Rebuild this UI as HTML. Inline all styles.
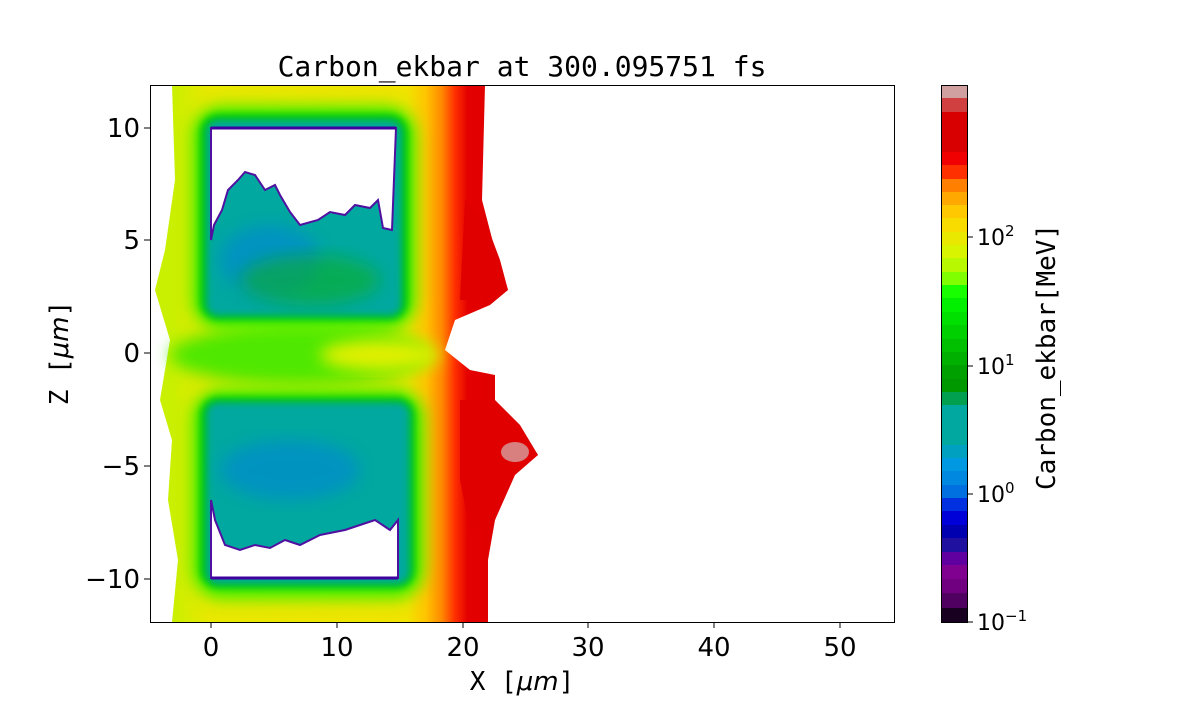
<!DOCTYPE html>
<html><head><style>
body{margin:0;background:#fff;}
</style></head><body>
<svg width="1200" height="700" viewBox="0 0 1200 700" xmlns="http://www.w3.org/2000/svg" style="font-family:'DejaVu Sans','Liberation Sans',sans-serif">
<defs>
<linearGradient id="bg" x1="170" x2="490" y1="0" y2="0" gradientUnits="userSpaceOnUse">
<stop offset="0" stop-color="#c8f000"/>
<stop offset="0.12" stop-color="#e8e800"/>
<stop offset="0.74" stop-color="#f0e400"/>
<stop offset="0.80" stop-color="#ffc400"/>
<stop offset="0.85" stop-color="#ff8800"/>
<stop offset="0.89" stop-color="#ff3000"/>
<stop offset="0.93" stop-color="#e40000"/>
<stop offset="1" stop-color="#e00000"/>
</linearGradient>
<filter id="b8" x="-20%" y="-20%" width="140%" height="140%"><feGaussianBlur stdDeviation="8"/></filter>
<filter id="b4" x="-20%" y="-20%" width="140%" height="140%"><feGaussianBlur stdDeviation="4"/></filter>
<clipPath id="ax"><rect x="150" y="85" width="744" height="537"/></clipPath>
</defs>
<text x="522" y="76" font-size="28" text-anchor="middle" style="font-family:'DejaVu Sans Mono','Liberation Mono',monospace">Carbon_ekbar at 300.095751 fs</text>
<g clip-path="url(#ax)">
<path d="M172 85 L485 85 L482 200 L495 250 L508 290 L490 305 L455 320 L445 350 L470 370 L495 375 L495 410 L520 430 L538 455 L510 475 L495 520 L488 560 L488 622 L172 622 L178 560 L168 500 L172 440 L160 400 L170 340 L155 290 L165 250 L175 180 Z" fill="url(#bg)"/>
<path d="M465 200 L485 220 L500 260 L508 290 L480 300 L460 300 Z" fill="#e00000"/>
<path d="M460 400 L495 400 L520 425 L538 455 L515 475 L495 520 L470 530 L460 480 Z" fill="#e00000"/>
<ellipse cx="515" cy="452" rx="14" ry="10" fill="#d88080"/>
<ellipse cx="300" cy="355" rx="130" ry="30" fill="#50e800" filter="url(#b8)"/>
<ellipse cx="380" cy="355" rx="60" ry="16" fill="#e0f000" filter="url(#b8)"/>
<rect x="192" y="106" width="224" height="224" rx="30" fill="#40f000" filter="url(#b8)"/>
<rect x="200" y="114" width="208" height="206" rx="18" fill="#00c800" filter="url(#b4)"/>
<rect x="206" y="120" width="196" height="196" rx="12" fill="#00a8a0" filter="url(#b4)"/>
<rect x="192" y="389" width="232" height="210" rx="30" fill="#40f000" filter="url(#b8)"/>
<rect x="200" y="397" width="215" height="191" rx="18" fill="#00c800" filter="url(#b4)"/>
<rect x="206" y="402" width="204" height="182" rx="12" fill="#00a8a0" filter="url(#b4)"/>
<ellipse cx="270" cy="260" rx="50" ry="35" fill="#0080e0" opacity="0.5" filter="url(#b8)"/>
<ellipse cx="290" cy="470" rx="70" ry="30" fill="#0080e0" opacity="0.5" filter="url(#b8)"/>
<ellipse cx="310" cy="280" rx="70" ry="25" fill="#10b010" opacity="0.5" filter="url(#b8)"/>
<path d="M211 128 L396 128 L392 230 L383 228 L378 200 L370 208 L355 205 L345 215 L330 212 L318 220 L300 225 L290 212 L280 195 L275 185 L265 190 L255 175 L245 172 L238 180 L228 190 L222 210 L214 225 L211 240 Z" fill="#fff" stroke="#5010a0" stroke-width="2"/>
<path d="M211 578 L398 578 L398 520 L390 530 L375 520 L360 525 L345 530 L320 535 L300 545 L285 540 L270 548 L255 545 L240 550 L225 545 L215 520 L211 500 Z" fill="#fff" stroke="#5010a0" stroke-width="2"/>
<path d="M211 128 L396 128 M211 578 L398 578" stroke="#4000a0" stroke-width="3"/>
</g>
<rect x="150.5" y="85.5" width="744" height="537" fill="none" stroke="#000" stroke-width="1"/>
<g font-size="26" fill="#000">
<g stroke="#000" stroke-width="1">
<line x1="211" y1="622" x2="211" y2="628"/><line x1="337" y1="622" x2="337" y2="628"/><line x1="463" y1="622" x2="463" y2="628"/><line x1="588" y1="622" x2="588" y2="628"/><line x1="714" y1="622" x2="714" y2="628"/><line x1="840" y1="622" x2="840" y2="628"/>
<line x1="144" y1="128" x2="150" y2="128"/><line x1="144" y1="240" x2="150" y2="240"/><line x1="144" y1="353" x2="150" y2="353"/><line x1="144" y1="466" x2="150" y2="466"/><line x1="144" y1="579" x2="150" y2="579"/>
</g>
<g text-anchor="middle">
<text x="211" y="656">0</text><text x="337" y="656">10</text><text x="463" y="656">20</text><text x="588" y="656">30</text><text x="714" y="656">40</text><text x="840" y="656">50</text>
</g>
<g text-anchor="end">
<text x="140" y="137">10</text><text x="140" y="249">5</text><text x="140" y="362">0</text><text x="140" y="475">−5</text><text x="140" y="588">−10</text>
</g>
<text x="522" y="690" text-anchor="middle" style="font-family:'DejaVu Sans Mono','Liberation Mono',monospace">X [<tspan font-style="italic" style="font-family:'DejaVu Sans',sans-serif">μm</tspan>]</text>
<text transform="translate(68,353) rotate(-90)" text-anchor="middle" style="font-family:'DejaVu Sans Mono','Liberation Mono',monospace">Z [<tspan font-style="italic" style="font-family:'DejaVu Sans',sans-serif">μm</tspan>]</text>
</g>
<g>
<rect x="941" y="85" width="26" height="13" fill="#d0a0a0"/>
<rect x="941" y="98" width="26" height="14" fill="#d04040"/>
<rect x="941" y="112" width="26" height="40" fill="#d80000"/>
<rect x="941" y="152" width="26" height="13" fill="#f00000"/>
<rect x="941" y="165" width="26" height="14" fill="#ff3000"/>
<rect x="941" y="179" width="26" height="13" fill="#ff8000"/>
<rect x="941" y="192" width="26" height="13" fill="#ffa800"/>
<rect x="941" y="205" width="26" height="13" fill="#ffc800"/>
<rect x="941" y="218" width="26" height="14" fill="#f8dc00"/>
<rect x="941" y="232" width="26" height="13" fill="#e8e800"/>
<rect x="941" y="245" width="26" height="13" fill="#d8f400"/>
<rect x="941" y="258" width="26" height="14" fill="#b8f800"/>
<rect x="941" y="272" width="26" height="13" fill="#80ff00"/>
<rect x="941" y="285" width="26" height="13" fill="#18ff00"/>
<rect x="941" y="298" width="26" height="14" fill="#00f000"/>
<rect x="941" y="312" width="26" height="13" fill="#00e000"/>
<rect x="941" y="325" width="26" height="14" fill="#00d000"/>
<rect x="941" y="339" width="26" height="13" fill="#00c000"/>
<rect x="941" y="352" width="26" height="13" fill="#00b000"/>
<rect x="941" y="365" width="26" height="14" fill="#00a000"/>
<rect x="941" y="379" width="26" height="13" fill="#009800"/>
<rect x="941" y="392" width="26" height="13" fill="#00a050"/>
<rect x="941" y="405" width="26" height="40" fill="#00a8a0"/>
<rect x="941" y="445" width="26" height="13" fill="#00a0c0"/>
<rect x="941" y="458" width="26" height="13" fill="#0098e0"/>
<rect x="941" y="471" width="26" height="14" fill="#0088e0"/>
<rect x="941" y="485" width="26" height="13" fill="#0070e0"/>
<rect x="941" y="498" width="26" height="13" fill="#0030e0"/>
<rect x="941" y="511" width="26" height="14" fill="#0000d8"/>
<rect x="941" y="525" width="26" height="13" fill="#0000b0"/>
<rect x="941" y="538" width="26" height="14" fill="#2010a0"/>
<rect x="941" y="552" width="26" height="13" fill="#6000a0"/>
<rect x="941" y="565" width="26" height="14" fill="#800090"/>
<rect x="941" y="579" width="26" height="14" fill="#700080"/>
<rect x="941" y="593" width="26" height="15" fill="#500060"/>
<rect x="941" y="608" width="26" height="14" fill="#180020"/>
<rect x="941.5" y="85.5" width="26" height="537" fill="none" stroke="#000" stroke-width="1"/>
<g stroke="#000"><line x1="967" y1="237" x2="973" y2="237"/><line x1="967" y1="366" x2="973" y2="366"/><line x1="967" y1="494" x2="973" y2="494"/><line x1="967" y1="622" x2="973" y2="622"/></g>
<g font-size="22">
<text x="977" y="245">10<tspan font-size="15" dy="-9">2</tspan></text>
<text x="977" y="374">10<tspan font-size="15" dy="-9">1</tspan></text>
<text x="977" y="502">10<tspan font-size="15" dy="-9">0</tspan></text>
<text x="977" y="630">10<tspan font-size="15" dy="-9">−1</tspan></text>
</g>
<text transform="translate(1055,357) rotate(-90)" text-anchor="middle" font-size="26" style="font-family:'DejaVu Sans Mono','Liberation Mono',monospace">Carbon_ekbar[MeV]</text>
</g>
</svg>
</body></html>
